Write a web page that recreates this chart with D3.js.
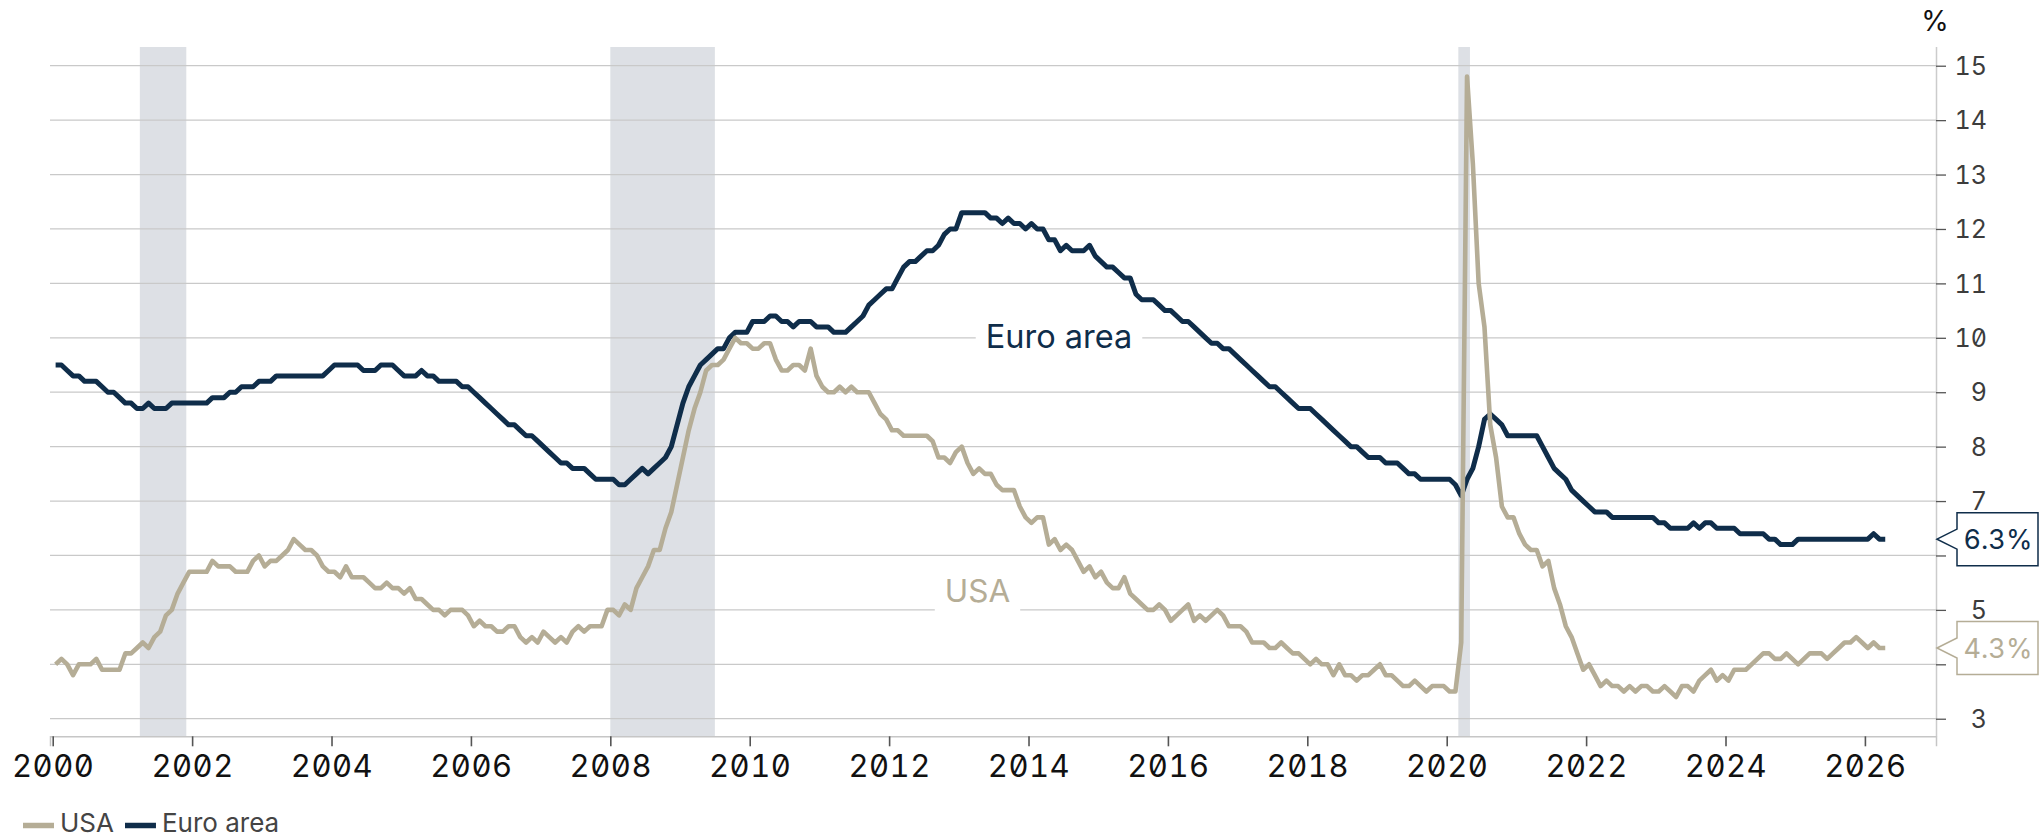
<!DOCTYPE html>
<html><head><meta charset="utf-8">
<script src="https://cdn.jsdelivr.net/npm/d3@7"></script>
<style>
html,body{margin:0;padding:0;background:#fff;}
svg{display:block;}
.num{font-feature-settings:"zero" 1, "tnum" 1;}
</style></head><body>
<svg id="chart" width="2039" height="838"></svg>
<script>
// ---------------- DATA ----------------
const startYear = 2000; // monthly data from Jan 2000
const usaValues = [
  4.0,4.1,4.0,3.8,4.0,4.0,4.0,4.1,3.9,3.9,3.9,3.9,
  4.2,4.2,4.3,4.4,4.3,4.5,4.6,4.9,5.0,5.3,5.5,5.7,
  5.7,5.7,5.7,5.9,5.8,5.8,5.8,5.7,5.7,5.7,5.9,6.0,
  5.8,5.9,5.9,6.0,6.1,6.3,6.2,6.1,6.1,6.0,5.8,5.7,
  5.7,5.6,5.8,5.6,5.6,5.6,5.5,5.4,5.4,5.5,5.4,5.4,
  5.3,5.4,5.2,5.2,5.1,5.0,5.0,4.9,5.0,5.0,5.0,4.9,
  4.7,4.8,4.7,4.7,4.6,4.6,4.7,4.7,4.5,4.4,4.5,4.4,
  4.6,4.5,4.4,4.5,4.4,4.6,4.7,4.6,4.7,4.7,4.7,5.0,
  5.0,4.9,5.1,5.0,5.4,5.6,5.8,6.1,6.1,6.5,6.8,7.3,
  7.8,8.3,8.7,9.0,9.4,9.5,9.5,9.6,9.8,10.0,9.9,9.9,
  9.8,9.8,9.9,9.9,9.6,9.4,9.4,9.5,9.5,9.4,9.8,9.3,
  9.1,9.0,9.0,9.1,9.0,9.1,9.0,9.0,9.0,8.8,8.6,8.5,
  8.3,8.3,8.2,8.2,8.2,8.2,8.2,8.1,7.8,7.8,7.7,7.9,
  8.0,7.7,7.5,7.6,7.5,7.5,7.3,7.2,7.2,7.2,6.9,6.7,
  6.6,6.7,6.7,6.2,6.3,6.1,6.2,6.1,5.9,5.7,5.8,5.6,
  5.7,5.5,5.4,5.4,5.6,5.3,5.2,5.1,5.0,5.0,5.1,5.0,
  4.8,4.9,5.0,5.1,4.8,4.9,4.8,4.9,5.0,4.9,4.7,4.7,
  4.7,4.6,4.4,4.4,4.4,4.3,4.3,4.4,4.3,4.2,4.2,4.1,
  4.0,4.1,4.0,4.0,3.8,4.0,3.8,3.8,3.7,3.8,3.8,3.9,
  4.0,3.8,3.8,3.7,3.6,3.6,3.7,3.6,3.5,3.6,3.6,3.6,
  3.5,3.5,4.4,14.8,13.2,11.0,10.2,8.4,7.8,6.9,6.7,6.7,
  6.4,6.2,6.1,6.1,5.8,5.9,5.4,5.1,4.7,4.5,4.2,3.9,
  4.0,3.8,3.6,3.7,3.6,3.6,3.5,3.6,3.5,3.6,3.6,3.5,
  3.5,3.6,3.5,3.4,3.6,3.6,3.5,3.7,3.8,3.9,3.7,3.8,
  3.7,3.9,3.9,3.9,4.0,4.1,4.2,4.2,4.1,4.1,4.2,4.1,
  4.0,4.1,4.2,4.2,4.2,4.1,4.2,4.3,4.4,4.4,4.5,4.4,
  4.3,4.4,4.3,4.3
];
const euroValues = [
  9.5,9.5,9.4,9.3,9.3,9.2,9.2,9.2,9.1,9.0,9.0,8.9,
  8.8,8.8,8.7,8.7,8.8,8.7,8.7,8.7,8.8,8.8,8.8,8.8,
  8.8,8.8,8.8,8.9,8.9,8.9,9.0,9.0,9.1,9.1,9.1,9.2,
  9.2,9.2,9.3,9.3,9.3,9.3,9.3,9.3,9.3,9.3,9.3,9.4,
  9.5,9.5,9.5,9.5,9.5,9.4,9.4,9.4,9.5,9.5,9.5,9.4,
  9.3,9.3,9.3,9.4,9.3,9.3,9.2,9.2,9.2,9.2,9.1,9.1,
  9.0,8.9,8.8,8.7,8.6,8.5,8.4,8.4,8.3,8.2,8.2,8.1,
  8.0,7.9,7.8,7.7,7.7,7.6,7.6,7.6,7.5,7.4,7.4,7.4,
  7.4,7.3,7.3,7.4,7.5,7.6,7.5,7.6,7.7,7.8,8.0,8.4,
  8.8,9.1,9.3,9.5,9.6,9.7,9.8,9.8,10.0,10.1,10.1,10.1,
  10.3,10.3,10.3,10.4,10.4,10.3,10.3,10.2,10.3,10.3,10.3,10.2,
  10.2,10.2,10.1,10.1,10.1,10.2,10.3,10.4,10.6,10.7,10.8,10.9,
  10.9,11.1,11.3,11.4,11.4,11.5,11.6,11.6,11.7,11.9,12.0,12.0,
  12.3,12.3,12.3,12.3,12.3,12.2,12.2,12.1,12.2,12.1,12.1,12.0,
  12.1,12.0,12.0,11.8,11.8,11.6,11.7,11.6,11.6,11.6,11.7,11.5,
  11.4,11.3,11.3,11.2,11.1,11.1,10.8,10.7,10.7,10.7,10.6,10.5,
  10.5,10.4,10.3,10.3,10.2,10.1,10.0,9.9,9.9,9.8,9.8,9.7,
  9.6,9.5,9.4,9.3,9.2,9.1,9.1,9.0,8.9,8.8,8.7,8.7,
  8.7,8.6,8.5,8.4,8.3,8.2,8.1,8.0,8.0,7.9,7.8,7.8,
  7.8,7.7,7.7,7.7,7.6,7.5,7.5,7.4,7.4,7.4,7.4,7.4,
  7.4,7.3,7.1,7.4,7.6,8.0,8.5,8.6,8.5,8.4,8.2,8.2,
  8.2,8.2,8.2,8.2,8.0,7.8,7.6,7.5,7.4,7.2,7.1,7.0,
  6.9,6.8,6.8,6.8,6.7,6.7,6.7,6.7,6.7,6.7,6.7,6.7,
  6.6,6.6,6.5,6.5,6.5,6.5,6.6,6.5,6.6,6.6,6.5,6.5,
  6.5,6.5,6.4,6.4,6.4,6.4,6.4,6.3,6.3,6.2,6.2,6.2,
  6.3,6.3,6.3,6.3,6.3,6.3,6.3,6.3,6.3,6.3,6.3,6.3,
  6.3,6.4,6.3,6.3
];
const seriesNames = ["USA", "Euro area"];
const seriesColors = ["#b5ad96", "#0f2d4a"];
const recessionStarts = ["2001-04", "2008-01", "2020-03"];
const recessionEnds   = ["2001-12", "2009-07", "2020-05"];
const xTickValues = [2000,2002,2004,2006,2008,2010,2012,2014,2016,2018,2020,2022,2024,2026];
const yTickValues = [3,4,5,6,7,8,9,10,11,12,13,14,15];
const yUnit = "%";

// ---------------- LAYOUT ----------------
const W = 2039, H = 838;
const plot = {left: 50, right: 1936, top: 47, bottom: 736.3};
const numFont = 'Inter, "DejaVu Sans", sans-serif';
const labFont = 'Inter, "Noto Sans", sans-serif';

const svg = d3.select("#chart");
svg.append("rect").attr("width", W).attr("height", H).attr("fill", "#fff");

const x = d3.scaleLinear().domain([1999.961, 2027.02]).range([plot.left, plot.right]);
const y = d3.scaleLinear().domain([2.677, 15.344]).range([plot.bottom, plot.top]);

const ym = s => { const [a, b] = s.split("-").map(Number); return a + (b - 1) / 12; };
const monthPos = i => startYear + Math.floor(i / 12) + ((i % 12) + 0.5) / 12;

// recession bands
svg.append("g").selectAll("rect").data(recessionStarts.map((s, i) => [ym(s), ym(recessionEnds[i])]))
  .join("rect")
  .attr("x", d => x(d[0])).attr("width", d => x(d[1]) - x(d[0]))
  .attr("y", plot.top).attr("height", plot.bottom - plot.top)
  .attr("fill", "#dde0e5");

// gridlines
svg.append("g").selectAll("line").data(yTickValues).join("line")
  .attr("x1", plot.left).attr("x2", plot.right)
  .attr("y1", d => y(d)).attr("y2", d => y(d))
  .attr("stroke", "#c9c9c9").attr("stroke-width", 1.3);

// x axis
const xAxis = svg.append("g").attr("transform", `translate(0,${plot.bottom})`)
  .call(d3.axisBottom(x).tickValues(xTickValues).tickFormat(d3.format("d")).tickSize(10).tickPadding(9));
xAxis.select(".domain").attr("stroke", "#c6c6c6").attr("stroke-width", 1.5);
xAxis.selectAll(".tick line").attr("stroke", "#555").attr("stroke-width", 1.6);
xAxis.selectAll(".tick text").attr("class", "num").attr("font-family", numFont)
  .attr("font-size", 31).attr("fill", "#111").attr("letter-spacing", 0.5);

// y axis (right)
const yAxis = svg.append("g").attr("transform", `translate(${plot.right},0)`)
  .call(d3.axisRight(y).tickValues(yTickValues).tickFormat(d3.format("d")).tickSize(10).tickSizeOuter(0).tickPadding(0));
yAxis.select(".domain").attr("stroke", "#cccccc").attr("stroke-width", 1.5)
  .attr("d", `M0.5,${plot.top}V${plot.bottom}`);
yAxis.selectAll(".tick line").attr("stroke", "#555").attr("stroke-width", 1.3);
yAxis.selectAll(".tick text").attr("class", "num").attr("font-family", numFont).attr("font-size", 25)
  .attr("fill", "#3c3c3c").attr("text-anchor", "end").attr("x", 51).attr("dy", "0.35em");

svg.append("text").text(yUnit).attr("x", 1935).attr("y", 31).attr("text-anchor", "middle")
  .attr("font-family", numFont).attr("font-size", 28).attr("fill", "#111");

// lines
const line = d3.line().x((d, i) => x(monthPos(i))).y(d => y(d)).curve(d3.curveLinear);
const allSeries = [usaValues, euroValues];
[1, 0].forEach(k => {
  svg.append("path").datum(allSeries[k]).attr("d", line)
    .attr("fill", "none").attr("stroke", seriesColors[k])
    .attr("stroke-width", k === 1 ? 5 : 4.6).attr("stroke-linejoin", "round");
});

// in-chart labels
const inLabels = [{name: seriesNames[1], cx: 1059, base: 348, color: seriesColors[1], fs: 32.5},
                  {name: seriesNames[0], cx: 977.5, base: 601.5, color: seriesColors[0], fs: 31.5}];
inLabels.forEach(l => {
  const g = svg.append("g");
  const bg = g.append("rect").attr("fill", "#fff");
  const t = g.append("text").text(l.name).attr("x", l.cx).attr("y", l.base)
    .attr("text-anchor", "middle").attr("font-family", labFont).attr("font-size", l.fs)
    .attr("fill", l.color);
  const bb = t.node().getBBox();
  bg.attr("x", bb.x - 10).attr("y", bb.y).attr("width", bb.width + 20).attr("height", bb.height + 4);
});

// end value labels
[0, 1].forEach(k => {
  const v = allSeries[k][allSeries[k].length - 1];
  const yc = y(v);
  const bx = 1957, bw = 81, bh = 53;
  const top = yc - bh / 2, bot = yc + bh / 2;
  const p = `M${plot.right + 1},${yc}L${bx},${yc - 10}V${top}H${bx + bw}V${bot}H${bx}V${yc + 10}Z`;
  svg.append("path").attr("d", p).attr("fill", "#fff").attr("stroke", seriesColors[k]).attr("stroke-width", 1.5);
  svg.append("text").text(d3.format(".1f")(v) + "%").attr("x", bx + bw / 2 + 0.5).attr("y", yc)
    .attr("dy", "0.36em").attr("text-anchor", "middle").attr("class", "num").attr("font-family", numFont)
    .attr("font-size", 27).attr("fill", seriesColors[k]);
});

// legend
let lx = 23;
const legY = 825.5;
seriesNames.forEach((n, k) => {
  svg.append("line").attr("x1", lx).attr("x2", lx + 31).attr("y1", legY).attr("y2", legY)
    .attr("stroke", seriesColors[k]).attr("stroke-width", 5.5);
  const t = svg.append("text").text(n).attr("x", lx + 37).attr("y", 832)
    .attr("font-family", labFont).attr("font-size", 26).attr("fill", "#444");
  lx += 37 + t.node().getComputedTextLength() + 11;
});
</script>
</body></html>
